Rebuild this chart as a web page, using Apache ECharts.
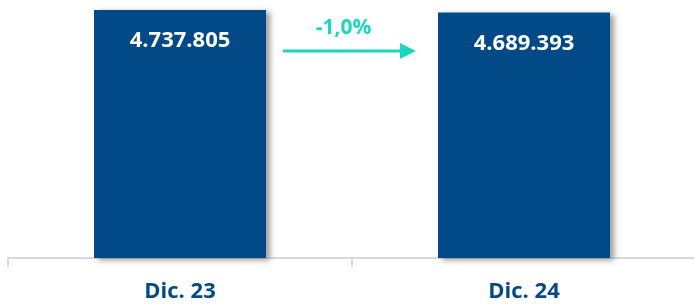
<!DOCTYPE html>
<html>
<head>
<meta charset="utf-8">
<script src="https://cdn.jsdelivr.net/npm/echarts@6/dist/echarts.min.js"></script>
<style>
  html, body { margin: 0; padding: 0; background: #fff; }
  #chart { width: 694px; height: 304px; }
</style>
</head>
<body>
<div id="chart"></div>
<script>
// datos
var categories = ["Dic. 23", "Dic. 24"];
var values = [4737805, 4689393];

var blue = "#024a87";
var teal = "#1dd6c0";

// formato español: 4.737.805
function fmt(v) {
  return String(v).replace(/\B(?=(\d{3})+(?!\d))/g, ".");
}
var change = (values[1] / values[0] - 1) * 100;
var changeText = (change > 0 ? "+" : "") + change.toFixed(1).replace(".", ",") + "%";

var chart = echarts.init(document.getElementById("chart"));
var option = {
  animation: false,
  grid: { left: 8, width: 688, top: 10, bottom: 46, outerBoundsMode: "none", containLabel: false },
  xAxis: {
    type: "category",
    data: categories,
    axisLine: { lineStyle: { color: "#d9d9d9", width: 2 } },
    axisTick: { show: true, length: 9, lineStyle: { color: "#d9d9d9", width: 2 } },
    axisLabel: {
      margin: 23,
      color: blue,
      fontFamily: "Open Sans",
      fontWeight: "bold",
      fontSize: 22
    }
  },
  yAxis: {
    type: "value",
    min: 0,
    max: function (v) { return v.max; },
    show: false,
    splitLine: { show: false }
  },
  series: [
    {
      type: "bar",
      data: values,
      barWidth: "50%",
      itemStyle: {
        color: blue,
        shadowColor: "rgba(0,0,0,0.4)",
        shadowBlur: 6,
        shadowOffsetX: 4,
        shadowOffsetY: 2
      },
      label: {
        show: true,
        position: "insideTop",
        distance: 20,
        formatter: function (p) { return fmt(p.value); },
        color: "#fff",
        fontFamily: "Open Sans",
        fontWeight: "bold",
        fontSize: 22
      }
    }
  ]
};
chart.setOption(option);

// flecha de variación entre las dos barras
var p0 = chart.convertToPixel({ seriesIndex: 0 }, [0, values[0]]);
var p1 = chart.convertToPixel({ seriesIndex: 0 }, [1, values[1]]);
var half = (p1[0] - p0[0]) / 4;
var x1 = p0[0] + half + 17;
var x2 = p1[0] - half - 22;
var ay = p0[1] + 41;
chart.setOption({
  graphic: [
    {
      type: "line",
      shape: { x1: x1, y1: ay, x2: x2 - 12, y2: ay },
      style: { stroke: teal, lineWidth: 3 }
    },
    {
      type: "polygon",
      shape: { points: [[x2 - 16, ay - 8], [x2, ay], [x2 - 16, ay + 8]] },
      style: { fill: teal }
    },
    {
      type: "text",
      x: (x1 + x2) / 2 - 6,
      y: ay - 23,
      style: {
        text: changeText,
        fill: teal,
        font: "bold 21px 'Open Sans'",
        align: "center",
        verticalAlign: "middle"
      }
    }
  ]
});
</script>
</body>
</html>
